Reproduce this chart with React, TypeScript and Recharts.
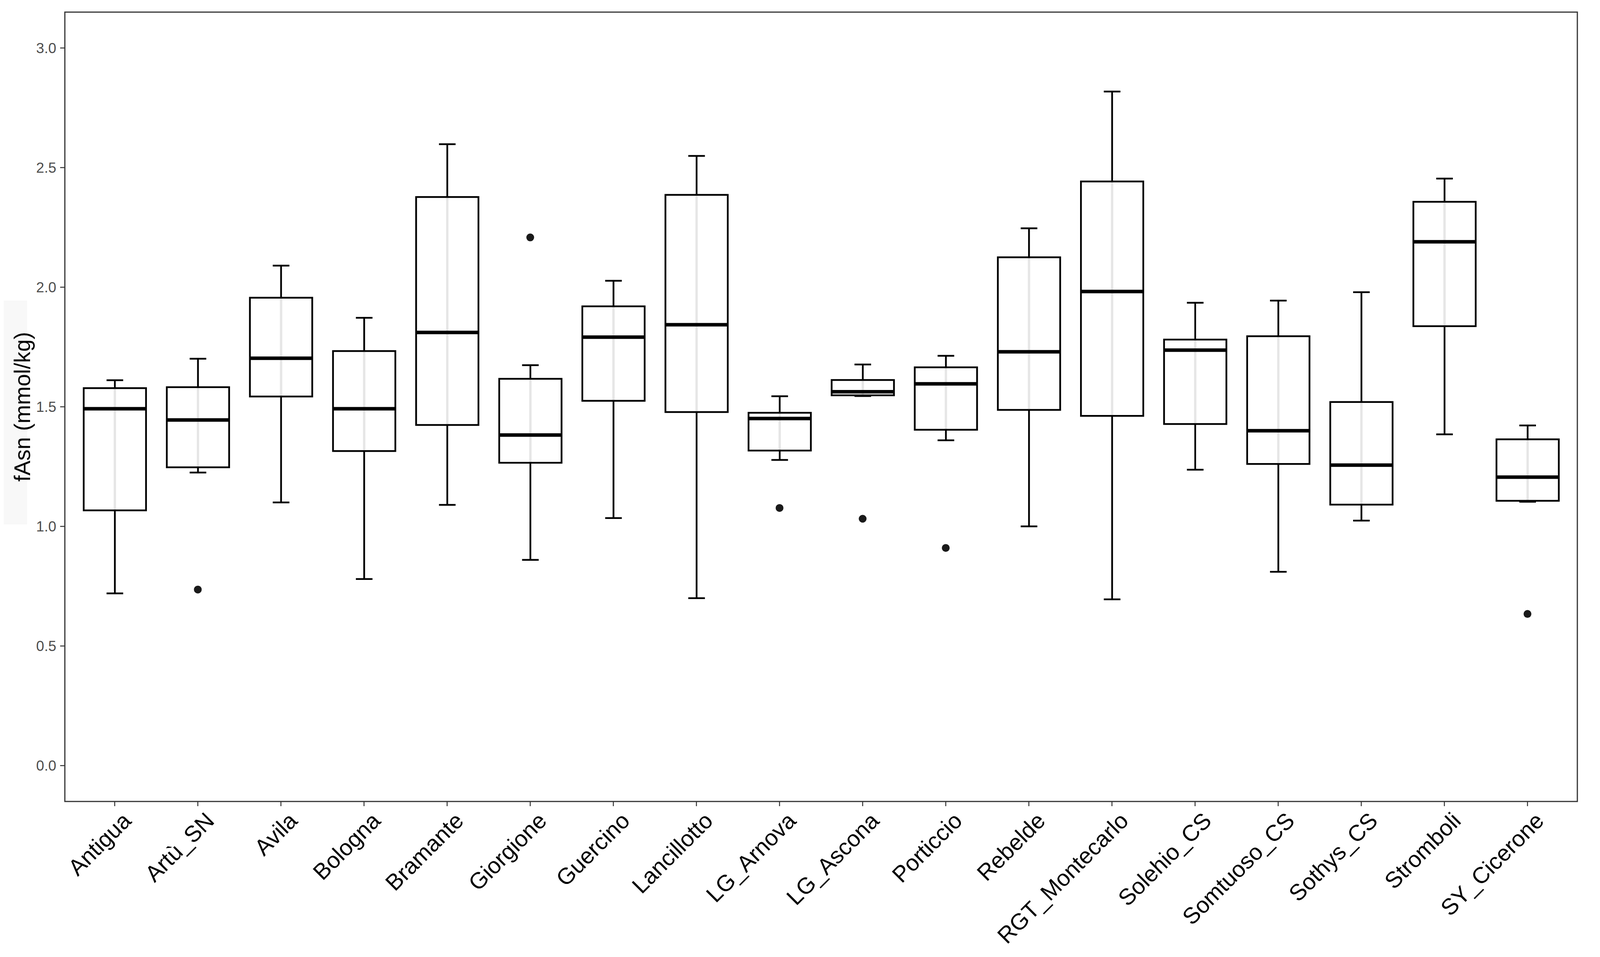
import React from "react";
import { ComposedChart, Bar, Line, XAxis, YAxis } from "recharts";

const categories = [
  "Antigua", "Artù_SN", "Avila", "Bologna", "Bramante", "Giorgione", "Guercino", "Lancillotto", "LG_Arnova",
  "LG_Ascona", "Porticcio", "Rebelde", "RGT_Montecarlo", "Solehio_CS", "Somtuoso_CS", "Sothys_CS", "Stromboli", "SY_Cicerone",
];
const whiskerLow = [0.72, 1.225, 1.1, 0.78, 1.09, 0.86, 1.035, 0.7, 1.278, 1.545, 1.36, 1.0, 0.695, 1.237, 0.81, 1.024, 1.385, 1.103];
const q1 = [1.067, 1.247, 1.543, 1.315, 1.424, 1.266, 1.525, 1.478, 1.317, 1.548, 1.404, 1.487, 1.462, 1.428, 1.261, 1.091, 1.837, 1.107];
const median = [1.492, 1.445, 1.703, 1.492, 1.811, 1.382, 1.791, 1.843, 1.451, 1.563, 1.596, 1.73, 1.982, 1.737, 1.4, 1.256, 2.19, 1.206];
const q3 = [1.578, 1.582, 1.956, 1.733, 2.377, 1.617, 1.92, 2.386, 1.475, 1.612, 1.665, 2.125, 2.442, 1.781, 1.795, 1.52, 2.357, 1.364];
const whiskerHigh = [1.611, 1.701, 2.09, 1.872, 2.598, 1.674, 2.027, 2.549, 1.544, 1.677, 1.713, 2.246, 2.818, 1.935, 1.944, 1.979, 2.454, 1.422];
const outliers = [null, 0.736, null, null, null, 2.208, null, null, 1.077, 1.032, 0.91, null, null, null, null, null, null, 0.634];
const yTicks = [0, 0.5, 1, 1.5, 2, 2.5, 3];

const data = categories.map((name, i) => ({
  name,
  range: [q1[i], q3[i]],
  lo: whiskerLow[i],
  q1: q1[i],
  med: median[i],
  q3: q3[i],
  hi: whiskerHigh[i],
  outlier: outliers[i],
}));

const FONT = "'Liberation Sans', Arial, Helvetica, sans-serif";

// the reference is 4323 wide; the browser may give us less, so squeeze x only
const W = typeof window !== "undefined" ? Math.min(window.innerWidth || 4323, 4323) : 4323;
const H = 2449;
const sx = W / 4323;
const LEFT = Math.round(175 * sx);
const RIGHT = Math.round(61 * sx);

function BoxShape(props: any) {
  const { x, y, width, height, payload } = props;
  const top = Math.min(y, y + height);
  const h = Math.abs(height);
  const k = h / (payload.q3 - payload.q1);
  const py = (v: number) => top + (payload.q3 - v) * k;
  const cx = x + width / 2;
  const cap = (width * (0.2 / 0.75)) / 2;
  return (
    <g>
      <line x1={cx} x2={cx} y1={py(payload.q3)} y2={py(payload.q1)} stroke="#e6e6e6" strokeWidth={6} />
      <line x1={cx} x2={cx} y1={py(payload.hi)} y2={py(payload.q3)} stroke="#000" strokeWidth={4.5} />
      <line x1={cx} x2={cx} y1={py(payload.q1)} y2={py(payload.lo)} stroke="#000" strokeWidth={4.5} />
      <line x1={cx - cap} x2={cx + cap} y1={py(payload.hi)} y2={py(payload.hi)} stroke="#000" strokeWidth={4.5} />
      <line x1={cx - cap} x2={cx + cap} y1={py(payload.lo)} y2={py(payload.lo)} stroke="#000" strokeWidth={4.5} />
      <rect x={x} y={top} width={width} height={h} fill="none" stroke="#000" strokeWidth={4.5} />
      <line x1={x} x2={x + width} y1={py(payload.med)} y2={py(payload.med)} stroke="#000" strokeWidth={9} />
    </g>
  );
}

function XTick(props: any) {
  const { x, y, payload } = props;
  return (
    <g transform={`translate(${x},${y})`}>
      <text
        transform={`translate(${48 * sx},39) rotate(-45)`}
        textAnchor="end"
        fontSize={60 * Math.sqrt(sx)}
        fill="#000"
        fontFamily={FONT}
      >
        {payload.value}
      </text>
    </g>
  );
}

// y title plus the panel border (drawn here since it needs the plot box)
function YLabel(props: any) {
  const vb = props.viewBox;
  const cx = 60 * sx;
  const cy = vb.y + vb.height / 2;
  return (
    <g>
      <rect x={cx - 50 * sx} y={cy - 272} width={63 * sx} height={573} fill="#f8f8f8" />
      <text
        x={cx}
        y={cy}
        transform={`rotate(-90, ${cx}, ${cy})`}
        textAnchor="middle"
        dominantBaseline="central"
        fontSize={57}
        fill="#000"
        fontFamily={FONT}
      >
        fAsn (mmol/kg)
      </text>
      <rect
        x={LEFT}
        y={vb.y}
        width={W - RIGHT - LEFT}
        height={vb.height}
        fill="none"
        stroke="#333"
        strokeWidth={3}
      />
    </g>
  );
}

export default function App() {
  const plotW = W - LEFT - RIGHT;
  const unit = plotW / 18.2;
  return (
    <div style={{ position: "absolute", left: 0, top: 0, width: W, height: H, background: "#fff" }}>
      <ComposedChart width={W} height={H} data={data} margin={{ top: 31, right: RIGHT, left: 0, bottom: 0 }}>
        <XAxis
          dataKey="name"
          type="category"
          padding={{ left: unit * 0.1, right: unit * 0.1 }}
          height={398}
          interval={0}
          axisLine={false}
          tickLine={{ stroke: "#333", strokeWidth: 2.5 }}
          tickSize={12}
          tick={<XTick />}
        />
        <YAxis
          type="number"
          domain={[-0.15, 3.15]}
          allowDataOverflow
          ticks={yTicks}
          width={LEFT}
          axisLine={false}
          tickLine={{ stroke: "#333", strokeWidth: 2.5 }}
          tickSize={12}
          tickMargin={10}
          tickFormatter={(v: number) => v.toFixed(1)}
          tick={{ fill: "#4d4d4d", fontSize: 37, fontFamily: FONT }}
          label={<YLabel />}
        />
        <Bar dataKey="range" barSize={unit * 0.75} shape={BoxShape} isAnimationActive={false} />
        <Line
          dataKey="outlier"
          stroke="none"
          dot={{ r: 10, fill: "#1a1a1a", stroke: "none" }}
          activeDot={false}
          isAnimationActive={false}
        />
      </ComposedChart>
    </div>
  );
}
